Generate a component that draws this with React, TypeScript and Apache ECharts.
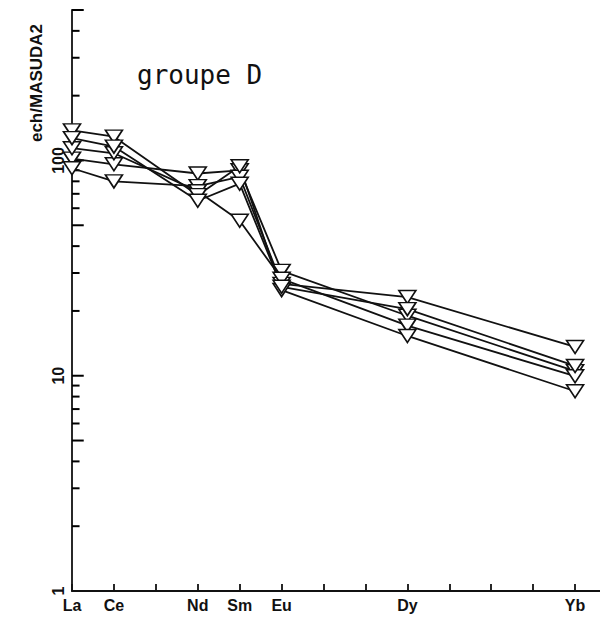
import React, { useEffect, useRef } from 'react';
import * as echarts from 'echarts';

// REE order used on the x axis (Pm omitted, as in the plot)
const ELEMENTS = ['La', 'Ce', 'Pr', 'Nd', 'Sm', 'Eu', 'Gd', 'Tb', 'Dy', 'Ho', 'Er', 'Tm', 'Yb', 'Lu'];
const LABELED_ELEMENTS = ['La', 'Ce', 'Nd', 'Sm', 'Eu', 'Dy', 'Yb'];
const MEASURED_ELEMENTS = ['La', 'Ce', 'Nd', 'Sm', 'Eu', 'Dy', 'Yb'];

// normalised values (ech/MASUDA2), one array per sample
const SAMPLE_1 = [102, 96, 87, 90, 30.7, 19.0, 10.5];
const SAMPLE_2 = [92, 80, 76, 84, 26.7, 23.2, 13.6];
const SAMPLE_3 = [114, 108, 72, 52.5, 28.2, 17.1, 9.95];
const SAMPLE_4 = [138, 129, 69, 94, 25.0, 15.3, 8.47];
const SAMPLE_5 = [127, 116, 65, 78, 25.9, 20.4, 11.1];
const SAMPLES = [SAMPLE_1, SAMPLE_2, SAMPLE_3, SAMPLE_4, SAMPLE_5];

const Y_MIN = 1;
const Y_MAX = 500;
const Y_LABELS = [1, 10, 100];
const Y_MAJOR_TICKS = [5, 10, 50, 100, 500];
const Y_MINOR_TICKS = [2, 3, 4, 6, 7, 8, 9, 20, 30, 40, 60, 70, 80, 90, 200, 300, 400];

const TITLE = 'groupe D';
const Y_NAME = 'ech/MASUDA2';

const INK = '#111';
const FONT = "'Liberation Sans Narrow', 'Liberation Sans', 'DejaVu Sans', sans-serif";

const W = 640; // wider than the window so the axis runs on past the right edge, as in the scan
const H = 618;

export default function App() {
  const ref = useRef<HTMLDivElement>(null);

  useEffect(() => {
    if (!ref.current) return;
    const chart = echarts.init(ref.current, undefined, { renderer: 'svg' });

    const lineSeries = SAMPLES.map((vals, si) => ({
      type: 'line',
      name: 'S' + (si + 1),
      data: MEASURED_ELEMENTS.map((el, i) => [ELEMENTS.indexOf(el), vals[i]]),
      symbol: 'path://M0,0L2,0L1,1.55Z',
      symbolSize: [17, 13],
      symbolKeepAspect: false,
      showSymbol: true,
      lineStyle: { color: INK, width: 1.8 },
      itemStyle: { color: '#fff', borderColor: INK, borderWidth: 1.6 },
      z: 3,
    }));

    // y-axis ticks: short segments starting on the axis (x = 0), lengths in element steps
    const MAJOR_LEN = 0.28;
    const MINOR_LEN = 0.18;
    const tickSeries = [
      ...Y_MAJOR_TICKS.map((v) => [v, MAJOR_LEN]),
      ...Y_MINOR_TICKS.map((v) => [v, MINOR_LEN]),
    ].map(([v, len]) => ({
      type: 'line',
      name: 'tick-' + v,
      data: [
        [0, v],
        [len, v],
      ],
      showSymbol: false,
      symbol: 'none',
      silent: true,
      clip: false,
      lineStyle: { color: '#000', width: 2 },
      z: 2,
    }));

    chart.setOption({
      animation: false,
      backgroundColor: '#fff',
      grid: { left: 72, right: W - 617, top: 10, bottom: 27, containLabel: false },
      xAxis: {
        type: 'value',
        min: 0,
        max: ELEMENTS.length - 1,
        interval: 1,
        axisLine: { show: true, onZero: false, lineStyle: { color: INK, width: 1.8 } },
        axisTick: { show: true, inside: true, length: 7, lineStyle: { color: INK, width: 1.8 } },
        splitLine: { show: false },
        axisLabel: {
          margin: 6,
          color: INK,
          fontFamily: FONT,
          fontWeight: 'bold',
          fontSize: 16,
          formatter: (v: number) => {
            const el = ELEMENTS[Math.round(v)];
            return Math.abs(v - Math.round(v)) < 1e-6 && LABELED_ELEMENTS.includes(el) ? el : '';
          },
        },
      },
      yAxis: {
        type: 'log',
        logBase: 10,
        min: Y_MIN,
        max: Y_MAX,
        axisLine: { show: true, onZero: false, lineStyle: { color: INK, width: 1.8 } },
        axisTick: { show: false },
        splitLine: { show: false },
        axisLabel: {
          rotate: 90,
          margin: 6,
          color: INK,
          fontFamily: FONT,
          fontWeight: 'bold',
          fontSize: 16,
          showMaxLabel: false,
          formatter: (v: number) => {
            const r = Math.round(v);
            return Y_LABELS.includes(r) && Math.abs(v - r) < 1e-6 * Math.max(1, r) ? String(r) : '';
          },
        },
      },
      graphic: [
        {
          type: 'text',
          x: 36,
          y: 83,
          rotation: Math.PI / 2,
          style: {
            text: Y_NAME,
            fill: INK,
            font: `bold 17px ${FONT}`,
            textAlign: 'center',
            textVerticalAlign: 'middle',
          },
        },
        {
          type: 'text',
          x: 137,
          y: 75,
          style: {
            text: TITLE,
            fill: INK,
            font: "26px 'DejaVu Sans Mono', monospace",
            textAlign: 'left',
            textVerticalAlign: 'middle',
          },
        },
      ],
      series: [...tickSeries, ...lineSeries],
    });

    return () => chart.dispose();
  }, []);

  return (
    <div
      ref={ref}
      style={{ position: 'fixed', left: 0, top: 0, width: W, height: H, background: '#fff' }}
    />
  );
}
